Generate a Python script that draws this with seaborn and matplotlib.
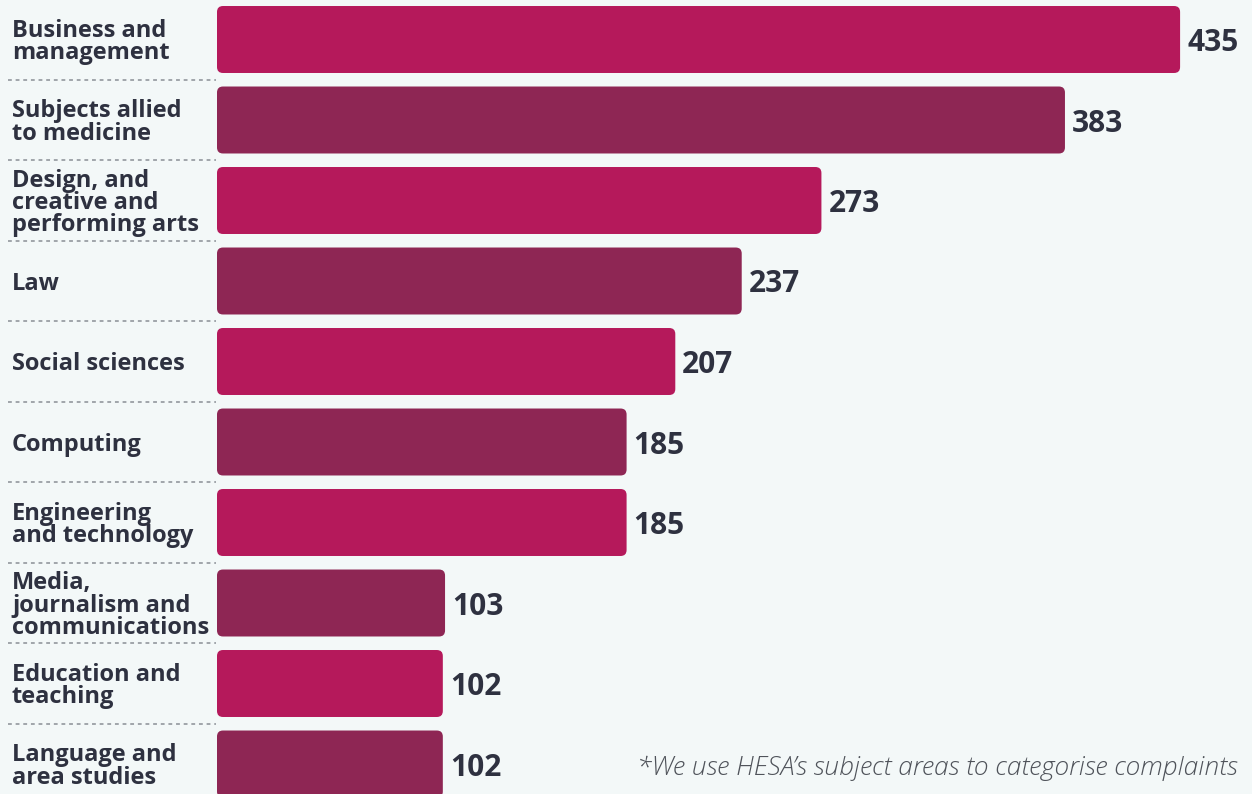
import matplotlib
matplotlib.use("Agg")
import matplotlib.pyplot as plt
import seaborn as sns
import pandas as pd
from matplotlib.patches import FancyBboxPatch
from matplotlib.transforms import blended_transform_factory, ScaledTranslation

categories = [
    "Business and\nmanagement",
    "Subjects allied\nto medicine",
    "Design, and\ncreative and\nperforming arts",
    "Law",
    "Social sciences",
    "Computing",
    "Engineering\nand technology",
    "Media,\njournalism and\ncommunications",
    "Education and\nteaching",
    "Language and\narea studies",
]
values = [435, 383, 273, 237, 207, 185, 185, 103, 102, 102]
footnote = "*We use HESA\u2019s subject areas to categorise complaints"

BG = "#f3f8f8"
C1 = "#b5195b"
C2 = "#8e2654"
TXT = "#2e3140"

sns.set_theme(style="white")
plt.rcParams["font.family"] = ["Open Sans", "DejaVu Sans"]

W, H = 1252, 794
fig = plt.figure(figsize=(W / 100, H / 100), dpi=100, facecolor=BG)
left_px = 217
ax = fig.add_axes([left_px / W, 0, 1 - left_px / W, 1])
ax.set_facecolor(BG)

df = pd.DataFrame({"cat": categories, "val": values})
palette = [C1 if i % 2 == 0 else C2 for i in range(len(categories))]
sns.barplot(data=df, x="val", y="cat", hue="cat", palette=palette,
            orient="h", width=0.832, legend=False, ax=ax, saturation=1)

scale = 2.214  # px per unit
pitch = 80.5
xmax = (W - left_px) / scale
ax.set_xlim(0, xmax)
top = -39.5 / pitch
bottom = (H - 39.5) / pitch
ax.set_ylim(bottom, top)
ax.axis("off")

# rounded bars
x_per_px = xmax / (W - left_px)
y_per_px = (bottom - top) / H
aspect = y_per_px / x_per_px
r = 6 * x_per_px
for p in list(ax.patches):
    x0, y0 = p.get_x(), p.get_y()
    w, h = p.get_width(), p.get_height()
    fc = p.get_facecolor()
    p.remove()
    fb = FancyBboxPatch((x0, y0), w, h,
                        boxstyle=f"round,pad=0,rounding_size={r}",
                        mutation_aspect=aspect, facecolor=fc,
                        edgecolor="none", clip_on=False)
    ax.add_patch(fb)

# value labels
for i, v in enumerate(values):
    ax.annotate(str(v), (v, i), xytext=(5, 0), textcoords="offset points",
                ha="left", va="center_baseline", fontsize=21.5,
                fontweight="bold", color=TXT)

# category labels and separators
tr = blended_transform_factory(fig.transFigure, ax.transData)
tr_lbl = tr + ScaledTranslation(0, -2.5 / 100, fig.dpi_scale_trans)
for i, c in enumerate(categories):
    fig.text(12 / W, i, c, transform=tr_lbl, ha="left", va="center",
             fontsize=17, fontweight="bold", color=TXT, linespacing=0.9)
for i in range(len(categories) - 1):
    ln = plt.Line2D([8 / W, 216 / W], [i + 0.5, i + 0.5], transform=tr,
                    color="#8a8f96", lw=1.1, linestyle=(0, (2.5, 2.5)))
    fig.add_artist(ln)

fig.text(1238 / W, 1 - 768 / H, footnote, ha="right", va="center",
         fontsize=19, fontstyle="italic", fontweight="light", color="#4f535a")

fig.savefig("out.png", dpi=100, facecolor=BG)
